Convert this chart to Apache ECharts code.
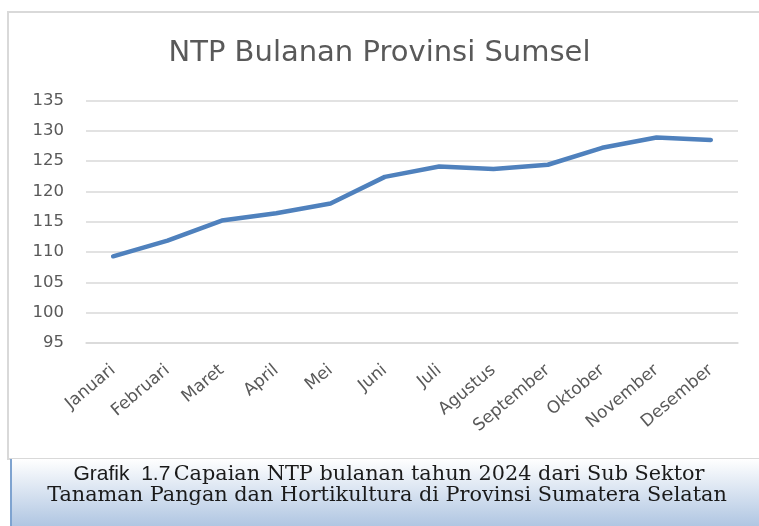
<!DOCTYPE html>
<html><head><meta charset="utf-8">
<script src="https://cdn.jsdelivr.net/npm/echarts@6/dist/echarts.min.js"></script>
<style>html,body{margin:0;padding:0;background:#fff}#c{width:759px;height:526px}</style>
</head><body><div id="c"></div>
<script>
const categories = ['Januari','Februari','Maret','April','Mei','Juni','Juli','Agustus','September','Oktober','November','Desember'];
const ntpValues = [109.3, 111.9, 115.2, 116.4, 118.0, 122.4, 124.1, 123.7, 124.4, 127.2, 128.9, 128.5];
const titleText = 'NTP Bulanan Provinsi Sumsel';
const captionLabel = 'Grafik  1.7';
const captionLine1 = 'Capaian NTP bulanan tahun 2024 dari Sub Sektor';
const captionLine2 = 'Tanaman Pangan dan Hortikultura di Provinsi Sumatera Selatan';

const chart = echarts.init(document.getElementById('c'), null, {renderer: 'canvas'});
chart.setOption({
  animation: false,
  backgroundColor: '#ffffff',
  title: {
    text: titleText, left: 'center', top: 34,
    textStyle: {fontFamily: 'DejaVu Sans', fontSize: 29, fontWeight: 'normal', color: '#595959'}
  },
  grid: {left: 86, right: 21, top: 100.5, bottom: 183},
  xAxis: {
    type: 'category', data: categories, boundaryGap: true,
    axisLine: {show: true, lineStyle: {color: '#d9d9d9', width: 1.5}},
    axisTick: {show: false},
    axisLabel: {rotate: 40, interval: 0, color: '#595959', fontFamily: 'DejaVu Sans', fontSize: 17, margin: 25}
  },
  yAxis: {
    type: 'value', min: 95, max: 135, interval: 5,
    axisLine: {show: false}, axisTick: {show: false},
    axisLabel: {color: '#595959', fontFamily: 'DejaVu Sans', fontSize: 16.5, margin: 22},
    splitLine: {lineStyle: {color: '#d9d9d9', width: 1.5}}
  },
  series: [{
    type: 'line', data: ntpValues, symbol: 'none', smooth: false,
    lineStyle: {color: '#4f81bd', width: 4.5, cap: 'round', join: 'round'}
  }],
  graphic: [
    {type: 'rect', z: -10, shape: {x: 8, y: 12, width: 760, height: 447},
     style: {fill: 'none', stroke: '#d9d9d9', lineWidth: 2}},
    {type: 'rect', z: 10, shape: {x: 10, y: 459, width: 749, height: 67},
     style: {fill: {type: 'linear', x: 0, y: 0, x2: 0, y2: 1,
       colorStops: [{offset: 0, color: '#ffffff'}, {offset: 1, color: '#b0c6e2'}]}}},
    {type: 'rect', z: 11, shape: {x: 10, y: 459, width: 2, height: 67},
     style: {fill: '#7ea3d0'}},
    {type: 'text', z: 12, x: 389, y: 474.5,
     style: {
       text: '{a|' + captionLabel + '} {b|' + captionLine1 + '}',
       align: 'center', verticalAlign: 'middle',
       rich: {
         a: {fontFamily: 'Liberation Sans Narrow, Liberation Sans', fontSize: 21, fill: '#1a1a1a'},
         b: {fontFamily: 'DejaVu Serif', fontSize: 20.8, fill: '#1a1a1a'}
       }
     }},
    {type: 'text', z: 12, x: 387, y: 496,
     style: {
       text: captionLine2, align: 'center', verticalAlign: 'middle',
       fontFamily: 'DejaVu Serif', fontSize: 20.8, fill: '#1a1a1a'
     }}
  ]
});
</script></body></html>
